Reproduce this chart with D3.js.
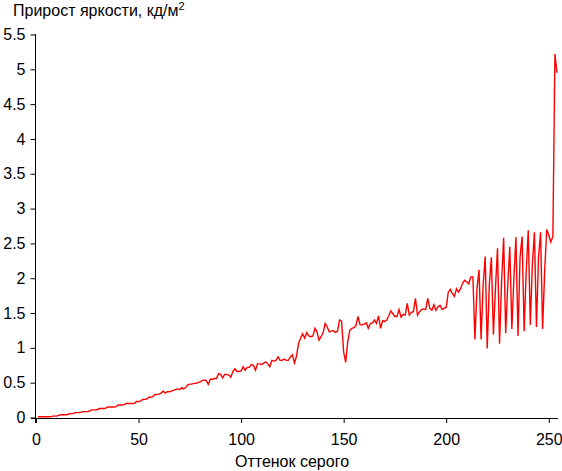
<!DOCTYPE html>
<html><head><meta charset="utf-8">
<script src="https://cdn.jsdelivr.net/npm/d3@7"></script>
<style>
body{margin:0;background:#fff;}
text{font-family:Arial,"Liberation Sans",sans-serif;}
</style></head>
<body><svg id="c" width="562" height="471"></svg>
<script>
const xTicks = [0, 50, 100, 150, 200, 250];
const yTicks = [0, 0.5, 1, 1.5, 2, 2.5, 3, 3.5, 4, 4.5, 5, 5.5];
const yTickLabels = ["0","0.5","1","1.5","2","2.5","3","3.5","4","4.5","5","5.5"];
const shades = d3.range(1, 255);
const increments = [
0.01,0.01,0.01,0.01,0.01,0.01,0.01,0.02,0.02,0.02,
0.03,0.04,0.04,0.04,0.04,0.05,0.055,0.055,0.07,0.07,
0.07,0.075,0.085,0.085,0.085,0.09,0.11,0.11,0.11,0.115,
0.13,0.13,0.13,0.135,0.15,0.15,0.15,0.15,0.155,0.18,
0.18,0.18,0.185,0.2,0.2,0.2,0.2,0.205,0.23,0.23,
0.235,0.26,0.26,0.265,0.29,0.29,0.3,0.33,0.33,0.335,
0.35,0.38,0.35,0.37,0.37,0.38,0.39,0.40,0.41,0.40,
0.43,0.41,0.43,0.47,0.48,0.48,0.49,0.49,0.50,0.51,
0.53,0.54,0.53,0.475,0.55,0.55,0.56,0.56,0.63,0.62,
0.57,0.62,0.62,0.61,0.58,0.66,0.70,0.66,0.66,0.67,
0.73,0.68,0.72,0.72,0.76,0.75,0.68,0.77,0.77,0.76,
0.78,0.80,0.77,0.73,0.82,0.81,0.82,0.87,0.82,0.82,
0.84,0.82,0.82,0.87,0.90,0.785,0.88,1.06,1.14,1.20,
1.14,1.22,1.17,1.16,1.17,1.28,1.23,1.11,1.16,1.22,
1.35,1.30,1.23,1.24,1.25,1.22,1.24,1.40,1.38,0.94,
0.79,1.09,1.25,1.28,1.29,1.32,1.45,1.33,1.33,1.34,
1.36,1.28,1.35,1.36,1.40,1.35,1.46,1.28,1.39,1.38,
1.40,1.46,1.53,1.49,1.45,1.45,1.55,1.44,1.48,1.47,
1.64,1.47,1.51,1.52,1.71,1.47,1.52,1.55,1.56,1.55,
1.71,1.57,1.54,1.62,1.54,1.59,1.61,1.55,1.57,1.58,
1.80,1.84,1.78,1.74,1.85,1.80,1.85,1.93,1.97,1.95,
1.92,2.02,2.02,1.12,1.85,2.12,1.12,1.90,2.31,0.99,
1.90,2.30,1.19,1.85,2.43,1.06,1.95,2.58,1.21,1.90,
2.45,1.27,2.00,2.59,1.17,2.30,2.60,1.24,2.10,2.69,
1.33,2.20,2.66,1.30,2.30,2.66,1.27,2.10,2.70,2.62,
2.52,2.60,5.22,4.95
];
const titleText = "Прирост яркости, кд/м";
const titleSup = "2";
const xTitle = "Оттенок серого";

const svg = d3.select("#c");
const x = d3.scaleLinear().domain([0, 254.5]).range([36, 558]);
const y = d3.scaleLinear().domain([0, 5.5]).range([417.5, 34.5]);

const gx = svg.append("g").attr("transform", "translate(0,418)")
  .call(d3.axisBottom(x).tickValues(xTicks).tickSize(5).tickSizeOuter(0).tickPadding(11));
const gy = svg.append("g").attr("transform", "translate(35.5,0)")
  .call(d3.axisLeft(y).tickValues(yTicks).tickFormat((d,i)=>yTickLabels[i]).tickSize(5).tickSizeOuter(0).tickPadding(5));
[gx, gy].forEach(g => {
  g.selectAll("path,line").attr("stroke", "#000").attr("stroke-width", 1);
  g.selectAll("text").attr("font-size", 16).attr("fill", "#000").attr("font-family", "Arial, 'Liberation Sans', sans-serif");
});
gx.select("path").attr("d", "M31,0.5H558");
gy.select("path").attr("d", "M0,34H0V423");

const data = shades.map((s, i) => [s, increments[i]]);
svg.append("path").datum(data)
  .attr("fill", "none").attr("stroke", "#ff0000").attr("stroke-width", 1.4)
  .attr("stroke-linejoin", "miter")
  .attr("d", d3.line().x(d => x(d[0])).y(d => y(d[1])));

const t = svg.append("text").attr("x", 13).attr("y", 16).attr("font-size", 16).attr("fill", "#000");
t.append("tspan").text(titleText);
t.append("tspan").attr("dy", -6).attr("font-size", 11).text(titleSup);

svg.append("text").attr("x", 292).attr("y", 467).attr("text-anchor", "middle")
  .attr("font-size", 16).attr("fill", "#000").text(xTitle);
</script></body></html>
